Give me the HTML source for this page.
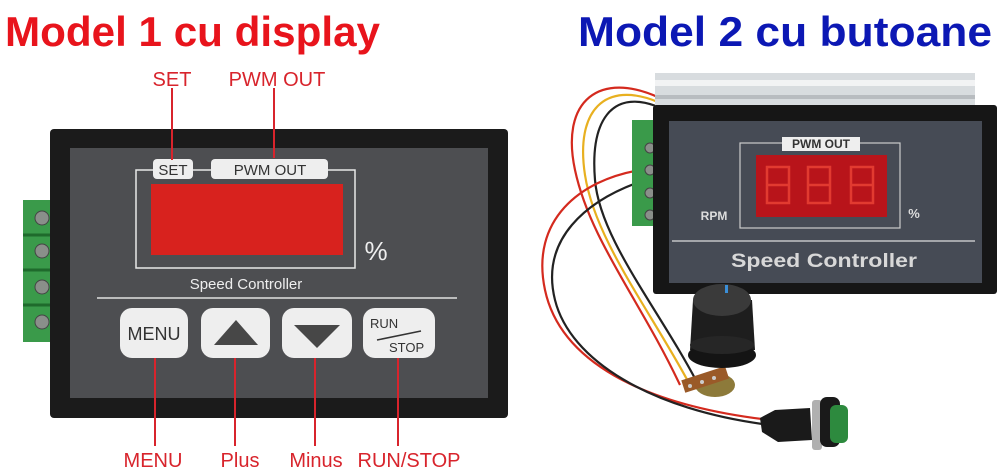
<!DOCTYPE html>
<html><head><meta charset="utf-8"><style>
html,body{margin:0;padding:0;background:#fff;width:1000px;height:473px;overflow:hidden}
svg{display:block}
text{font-family:"Liberation Sans",Arial,sans-serif}
</style></head><body>
<svg width="1000" height="473" viewBox="0 0 1000 473" xmlns="http://www.w3.org/2000/svg">
<rect width="1000" height="473" fill="#fff"/>
<text x="5" y="46" font-size="42" font-weight="bold" fill="#e8141c" textLength="375" lengthAdjust="spacingAndGlyphs">Model 1 cu display</text>
<text x="578" y="46" font-size="42" font-weight="bold" fill="#0c18b4" textLength="414" lengthAdjust="spacingAndGlyphs">Model 2 cu butoane</text>

<rect x="23" y="200" width="29" height="142" fill="#3a9a4a"/>
<g fill="#8a8f8a" stroke="#444" stroke-width="1">
<circle cx="42" cy="218" r="7"/><circle cx="42" cy="251" r="7"/><circle cx="42" cy="287" r="7"/><circle cx="42" cy="322" r="7"/>
</g>
<g stroke="#1f6a2c" stroke-width="3"><line x1="23" y1="235" x2="52" y2="235"/><line x1="23" y1="270" x2="52" y2="270"/><line x1="23" y1="305" x2="52" y2="305"/></g>
<rect x="50" y="129" width="458" height="289" rx="4" fill="#1b1b1b"/>
<rect x="70" y="148" width="418" height="250" fill="#4d4e51"/>
<rect x="136" y="170" width="219" height="98" fill="none" stroke="#e8e8e8" stroke-width="1.5"/>
<rect x="153" y="159" width="40" height="20" rx="4" fill="#eeeeee"/>
<text x="173" y="175" font-size="15" text-anchor="middle" fill="#333">SET</text>
<rect x="211" y="159" width="117" height="20" rx="4" fill="#eeeeee"/>
<text x="270" y="175" font-size="15" text-anchor="middle" fill="#333">PWM OUT</text>
<rect x="151" y="184" width="192" height="71" fill="#d8221e"/>
<text x="376" y="260" font-size="26" text-anchor="middle" fill="#eee">%</text>
<text x="246" y="289" font-size="15" text-anchor="middle" fill="#eee">Speed Controller</text>
<line x1="97" y1="298" x2="457" y2="298" stroke="#e0e0e0" stroke-width="1.5"/>
<g fill="#eeeeee">
<rect x="120" y="308" width="68" height="50" rx="12"/>
<rect x="201" y="308" width="69" height="50" rx="12"/>
<rect x="282" y="308" width="70" height="50" rx="12"/>
<rect x="363" y="308" width="72" height="50" rx="12"/>
</g>
<text x="154" y="340" font-size="18" text-anchor="middle" fill="#333">MENU</text>
<polygon points="236,320 258,345 214,345" fill="#474747"/>
<polygon points="294,325 340,325 317,348" fill="#474747"/>
<text x="370" y="328" font-size="13" fill="#333">RUN</text>
<line x1="377" y1="340" x2="421" y2="331" stroke="#333" stroke-width="1.5"/>
<text x="389" y="352" font-size="13" fill="#333">STOP</text>
<g stroke="#d8242c" stroke-width="2">
<line x1="172" y1="88" x2="172" y2="160"/>
<line x1="274" y1="88" x2="274" y2="158"/>
<line x1="155" y1="358" x2="155" y2="446"/>
<line x1="235" y1="358" x2="235" y2="446"/>
<line x1="315" y1="358" x2="315" y2="446"/>
<line x1="398" y1="358" x2="398" y2="446"/>
</g>
<g fill="#d8242c" font-size="20">
<text x="172" y="86" text-anchor="middle">SET</text>
<text x="277" y="86" text-anchor="middle">PWM OUT</text>
<text x="153" y="467" text-anchor="middle">MENU</text>
<text x="240" y="467" text-anchor="middle">Plus</text>
<text x="316" y="467" text-anchor="middle">Minus</text>
<text x="409" y="467" text-anchor="middle">RUN/STOP</text>
</g>

<!-- wires -->
<g fill="none" stroke-width="2.2">
<path d="M660,98 C600,70 560,100 575,170 C590,240 640,300 680,385" stroke="#d42a1e"/>
<path d="M658,102 C605,80 575,110 585,175 C595,240 650,310 690,385" stroke="#e8b020"/>
<path d="M656,106 C612,90 590,120 595,180 C600,240 660,310 700,388" stroke="#222"/>
<path d="M640,170 C580,180 530,220 545,290 C560,360 640,405 770,420" stroke="#d42a1e"/>
<path d="M645,180 C585,200 540,240 555,300 C570,360 650,410 770,425" stroke="#222"/>
</g>
<rect x="655" y="73" width="320" height="34" fill="#d8dcdf"/>
<rect x="655" y="80" width="320" height="6" fill="#f2f3f4"/>
<rect x="655" y="95" width="320" height="4" fill="#b8bcc0"/>
<rect x="632" y="120" width="26" height="106" fill="#3a9a4a"/>
<g fill="#8a8f8a" stroke="#444"><circle cx="650" cy="148" r="5"/><circle cx="650" cy="170" r="5"/><circle cx="650" cy="193" r="5"/><circle cx="650" cy="215" r="5"/></g>
<rect x="653" y="105" width="344" height="189" rx="3" fill="#161616"/>
<rect x="669" y="121" width="313" height="162" fill="#464b55"/>
<rect x="740" y="143" width="160" height="85" fill="none" stroke="#ccc" stroke-width="1.2"/>
<rect x="782" y="137" width="78" height="14" fill="#eee"/>
<text x="821" y="148" font-size="12" font-weight="bold" text-anchor="middle" fill="#333">PWM OUT</text>
<rect x="756" y="155" width="131" height="62" fill="#b8141a"/>
<g fill="none" stroke="#e23a30" stroke-width="2.5">
<path d="M767,167 h22 v36 h-22 z M767,185 h22"/>
<path d="M808,167 h22 v36 h-22 z M808,185 h22"/>
<path d="M851,167 h22 v36 h-22 z M851,185 h22"/>
</g>
<text x="714" y="220" font-size="12" font-weight="bold" text-anchor="middle" fill="#ddd">RPM</text>
<text x="914" y="218" font-size="13" font-weight="bold" text-anchor="middle" fill="#ddd">%</text>
<line x1="672" y1="241" x2="975" y2="241" stroke="#ddd" stroke-width="1.2"/>
<text x="824" y="267" font-size="19" font-weight="bold" text-anchor="middle" fill="#d8d8d8" textLength="186" lengthAdjust="spacingAndGlyphs">Speed Controller</text>
<!-- potentiometer -->
<ellipse cx="715" cy="385" rx="20" ry="12" fill="#8d7a3a"/>
<rect x="682" y="373" width="46" height="13" fill="#9a5a28" transform="rotate(-18 705 379)"/>
<g fill="#ccc"><circle cx="690" cy="386" r="2"/><circle cx="702" cy="382" r="2"/><circle cx="714" cy="378" r="2"/></g>
<!-- knob -->
<path d="M690,350 L693,300 L752,300 L755,350 Z" fill="#1e1e1e"/>
<ellipse cx="722" cy="355" rx="34" ry="13" fill="#141414"/>
<ellipse cx="722" cy="345" rx="32" ry="9" fill="#262626"/>
<ellipse cx="722" cy="300" rx="29" ry="16" fill="#3a3a3a"/>
<rect x="725" y="285" width="3" height="8" fill="#3b8fd8"/>
<!-- push button -->
<path d="M760,418 L775,410 L810,408 L812,440 L778,442 L762,432 Z" fill="#1a1a1a"/>
<rect x="812" y="400" width="10" height="50" rx="3" fill="#b0b0b0"/>
<rect x="820" y="397" width="20" height="50" rx="7" fill="#1a1a1a"/>
<rect x="830" y="405" width="18" height="38" rx="6" fill="#2d8a3e"/>
</svg>
</body></html>
